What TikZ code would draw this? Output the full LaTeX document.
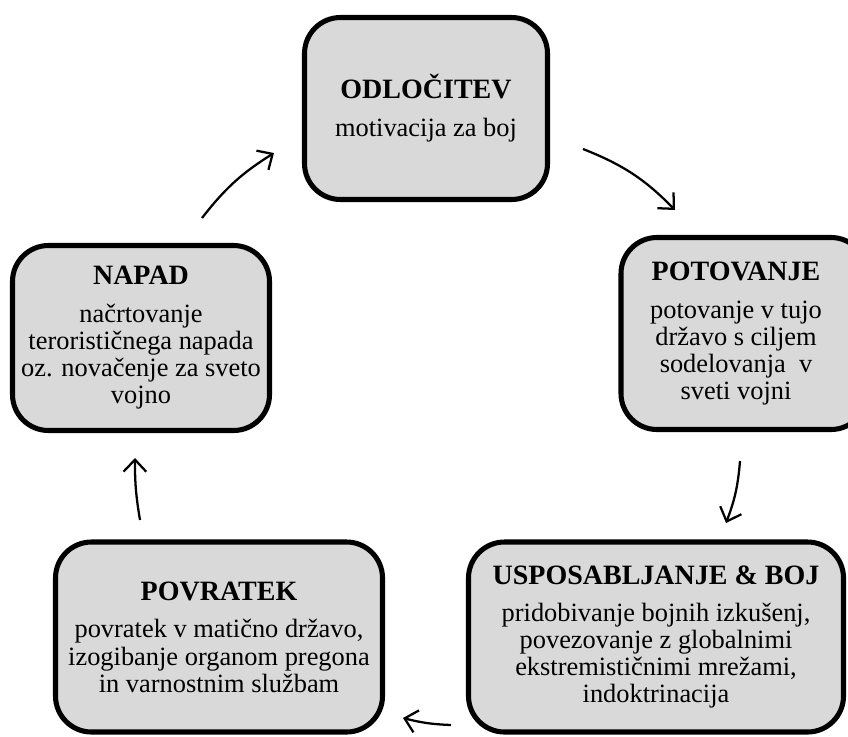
\documentclass[tikz,border=0pt]{standalone}
\usepackage{fontspec}
\setmainfont{Liberation Serif}
\usetikzlibrary{arrows.meta}
\definecolor{boxgray}{HTML}{D9D9D9}
\newcommand{\headfont}{\fontsize{21}{22}\selectfont\bfseries}
\begin{document}
\begin{tikzpicture}[x=0.75pt,y=-0.75pt,
  stagebox/.style={draw=black, fill=boxgray, line width=3.8pt, rounded corners=27pt,
    align=center, inner sep=0pt, font=\fontsize{19.8}{20.3}\selectfont},
  cyc/.style={line width=1.7pt, -{Straight Barb[length=9pt,width=17pt,line width=1.7pt]}}
]
\useasboundingbox (0,0) rectangle (848,736);
\node[stagebox, minimum width=243*0.75pt, minimum height=182*0.75pt] (odl) at (426,108.5)
  {{\headfont ODLOČITEV}\\[8pt]motivacija za boj};
\node[stagebox, minimum width=246*0.75pt, minimum height=192*0.75pt] (pot) at (744,333.5)
  {\hspace*{-12pt}{\headfont POTOVANJE}\\[8pt]\hspace*{-12pt}potovanje v tujo\\\hspace*{-12pt}državo s ciljem\\\hspace*{-12pt}sodelovanja\ \ v\\\hspace*{-12pt}sveti vojni};
\node[stagebox, minimum width=257*0.75pt, minimum height=185*0.75pt] (nap) at (141,338)
  {{\headfont NAPAD}\\[8pt]načrtovanje\\terorističnega napada\\oz. novačenje za sveto\\vojno};
\node[stagebox, minimum width=327*0.75pt, minimum height=190*0.75pt] (pov) at (219,637)
  {{\headfont POVRATEK}\\[8pt]povratek v matično državo,\\izogibanje organom pregona\\in varnostnim službam};
\node[stagebox, minimum width=375*0.75pt, minimum height=190*0.75pt] (usp) at (656,637)
  {{\headfont USPOSABLJANJE \& BOJ}\\[8pt]pridobivanje bojnih izkušenj,\\povezovanje z globalnimi\\ekstremističnimi mrežami,\\indoktrinacija};

\coordinate (a1s) at (583,149); \coordinate (a1e) at (675,210);
\coordinate (a2s) at (740,461); \coordinate (a2e) at (726,523);
\coordinate (a3s) at (451,725); \coordinate (a3e) at (403,718);
\coordinate (a4s) at (140,520); \coordinate (a4e) at (135,458);
\coordinate (a5s) at (202,218); \coordinate (a5e) at (274,153);

\draw[cyc] (a1s) to[bend left=12] (a1e);
\draw[cyc] (a2s) to[bend left=8] (a2e);
\draw[cyc] (a3s) to[bend left=6] (a3e);
\draw[cyc] (a4s) to[bend left=5] (a4e);
\draw[cyc] (a5s) to[bend left=10] (a5e);
\end{tikzpicture}
\end{document}
